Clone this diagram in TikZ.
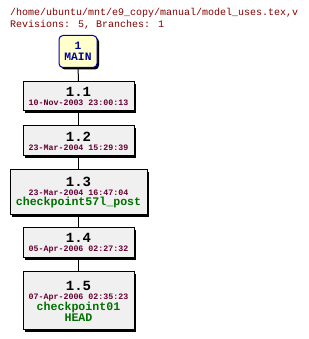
\documentclass[tikz,border=0pt]{standalone}
\usepackage{fontspec}
\setmainfont{Liberation Mono}
\usetikzlibrary{shadows}
\definecolor{titlecol}{HTML}{800000}
\definecolor{datecol}{HTML}{660033}
\definecolor{tagcol}{HTML}{007000}
\definecolor{maincol}{HTML}{0000A0}
\definecolor{boxfill}{HTML}{F0F0F0}
\definecolor{mainfill}{HTML}{FFFFCC}
\tikzset{
  x=1pt,y=1pt,
  revbox/.style={draw=black, line width=1pt, fill=boxfill, inner sep=0pt, align=center,
    drop shadow={shadow xshift=2pt, shadow yshift=-2pt, fill=black, opacity=1}},
  mainbox/.style={draw=maincol, line width=1pt, fill=mainfill, rounded corners=4pt, inner sep=0pt, align=center,
    drop shadow={shadow xshift=2pt, shadow yshift=-2pt, fill=black, opacity=1}},
  titletext/.style={anchor=base west, inner sep=0pt, text=titlecol, font=\fontsize{10}{12}\selectfont},
  link/.style={draw=black, line width=1pt}
}
\newcommand{\revnum}[1]{{\fontsize{14}{14}\selectfont\bfseries #1}}
\newcommand{\revdate}[1]{{\fontsize{8.3}{9}\selectfont\bfseries\color{datecol}#1}}
\newcommand{\revtag}[1]{{\fontsize{11.6}{13}\selectfont\bfseries\color{tagcol}#1}}
\begin{document}
\begin{tikzpicture}
\useasboundingbox (0,0) rectangle (308,339);
\node[titletext] (title1) at (10,323) {/home/ubuntu/mnt/e9\_copy/manual/model\_uses.tex,v};
\node[titletext] (title2) at (10,311) {Revisions: 5, Branches: 1};
\node[mainbox, minimum width=38, minimum height=32] (main) at (78,287.5)
  {{\fontsize{11.3}{12}\selectfont\bfseries\color{maincol}1}\\[-1pt]{\fontsize{11.3}{12}\selectfont\bfseries\color{maincol}MAIN}};
\node[revbox, minimum width=111, minimum height=29] (r11) at (78.5,242.5)
  {\revnum{1.1}\\[-3pt]\revdate{10-Nov-2003 23:00:13}};
\node[revbox, minimum width=111, minimum height=30] (r12) at (78.5,198)
  {\revnum{1.2}\\[-3pt]\revdate{23-Mar-2004 15:29:39}};
\node[revbox, minimum width=137, minimum height=45] (r13) at (78.5,146.5)
  {\revnum{1.3}\\[-3pt]\revdate{23-Mar-2004 16:47:04}\\[-2pt]\revtag{checkpoint57l\_post}};
\node[revbox, minimum width=111, minimum height=30] (r14) at (78.5,96)
  {\revnum{1.4}\\[-3pt]\revdate{05-Apr-2006 02:27:32}};
\node[revbox, minimum width=111, minimum height=58] (r15) at (78.5,38)
  {\revnum{1.5}\\[-3pt]\revdate{07-Apr-2006 02:35:23}\\[-1pt]\revtag{checkpoint01}\\[-1pt]\revtag{HEAD}};
\draw[link] (main) -- (r11);
\draw[link] (r11) -- (r12);
\draw[link] (r12) -- (r13);
\draw[link] (r13) -- (r14);
\draw[link] (r14) -- (r15);
\end{tikzpicture}
\end{document}
